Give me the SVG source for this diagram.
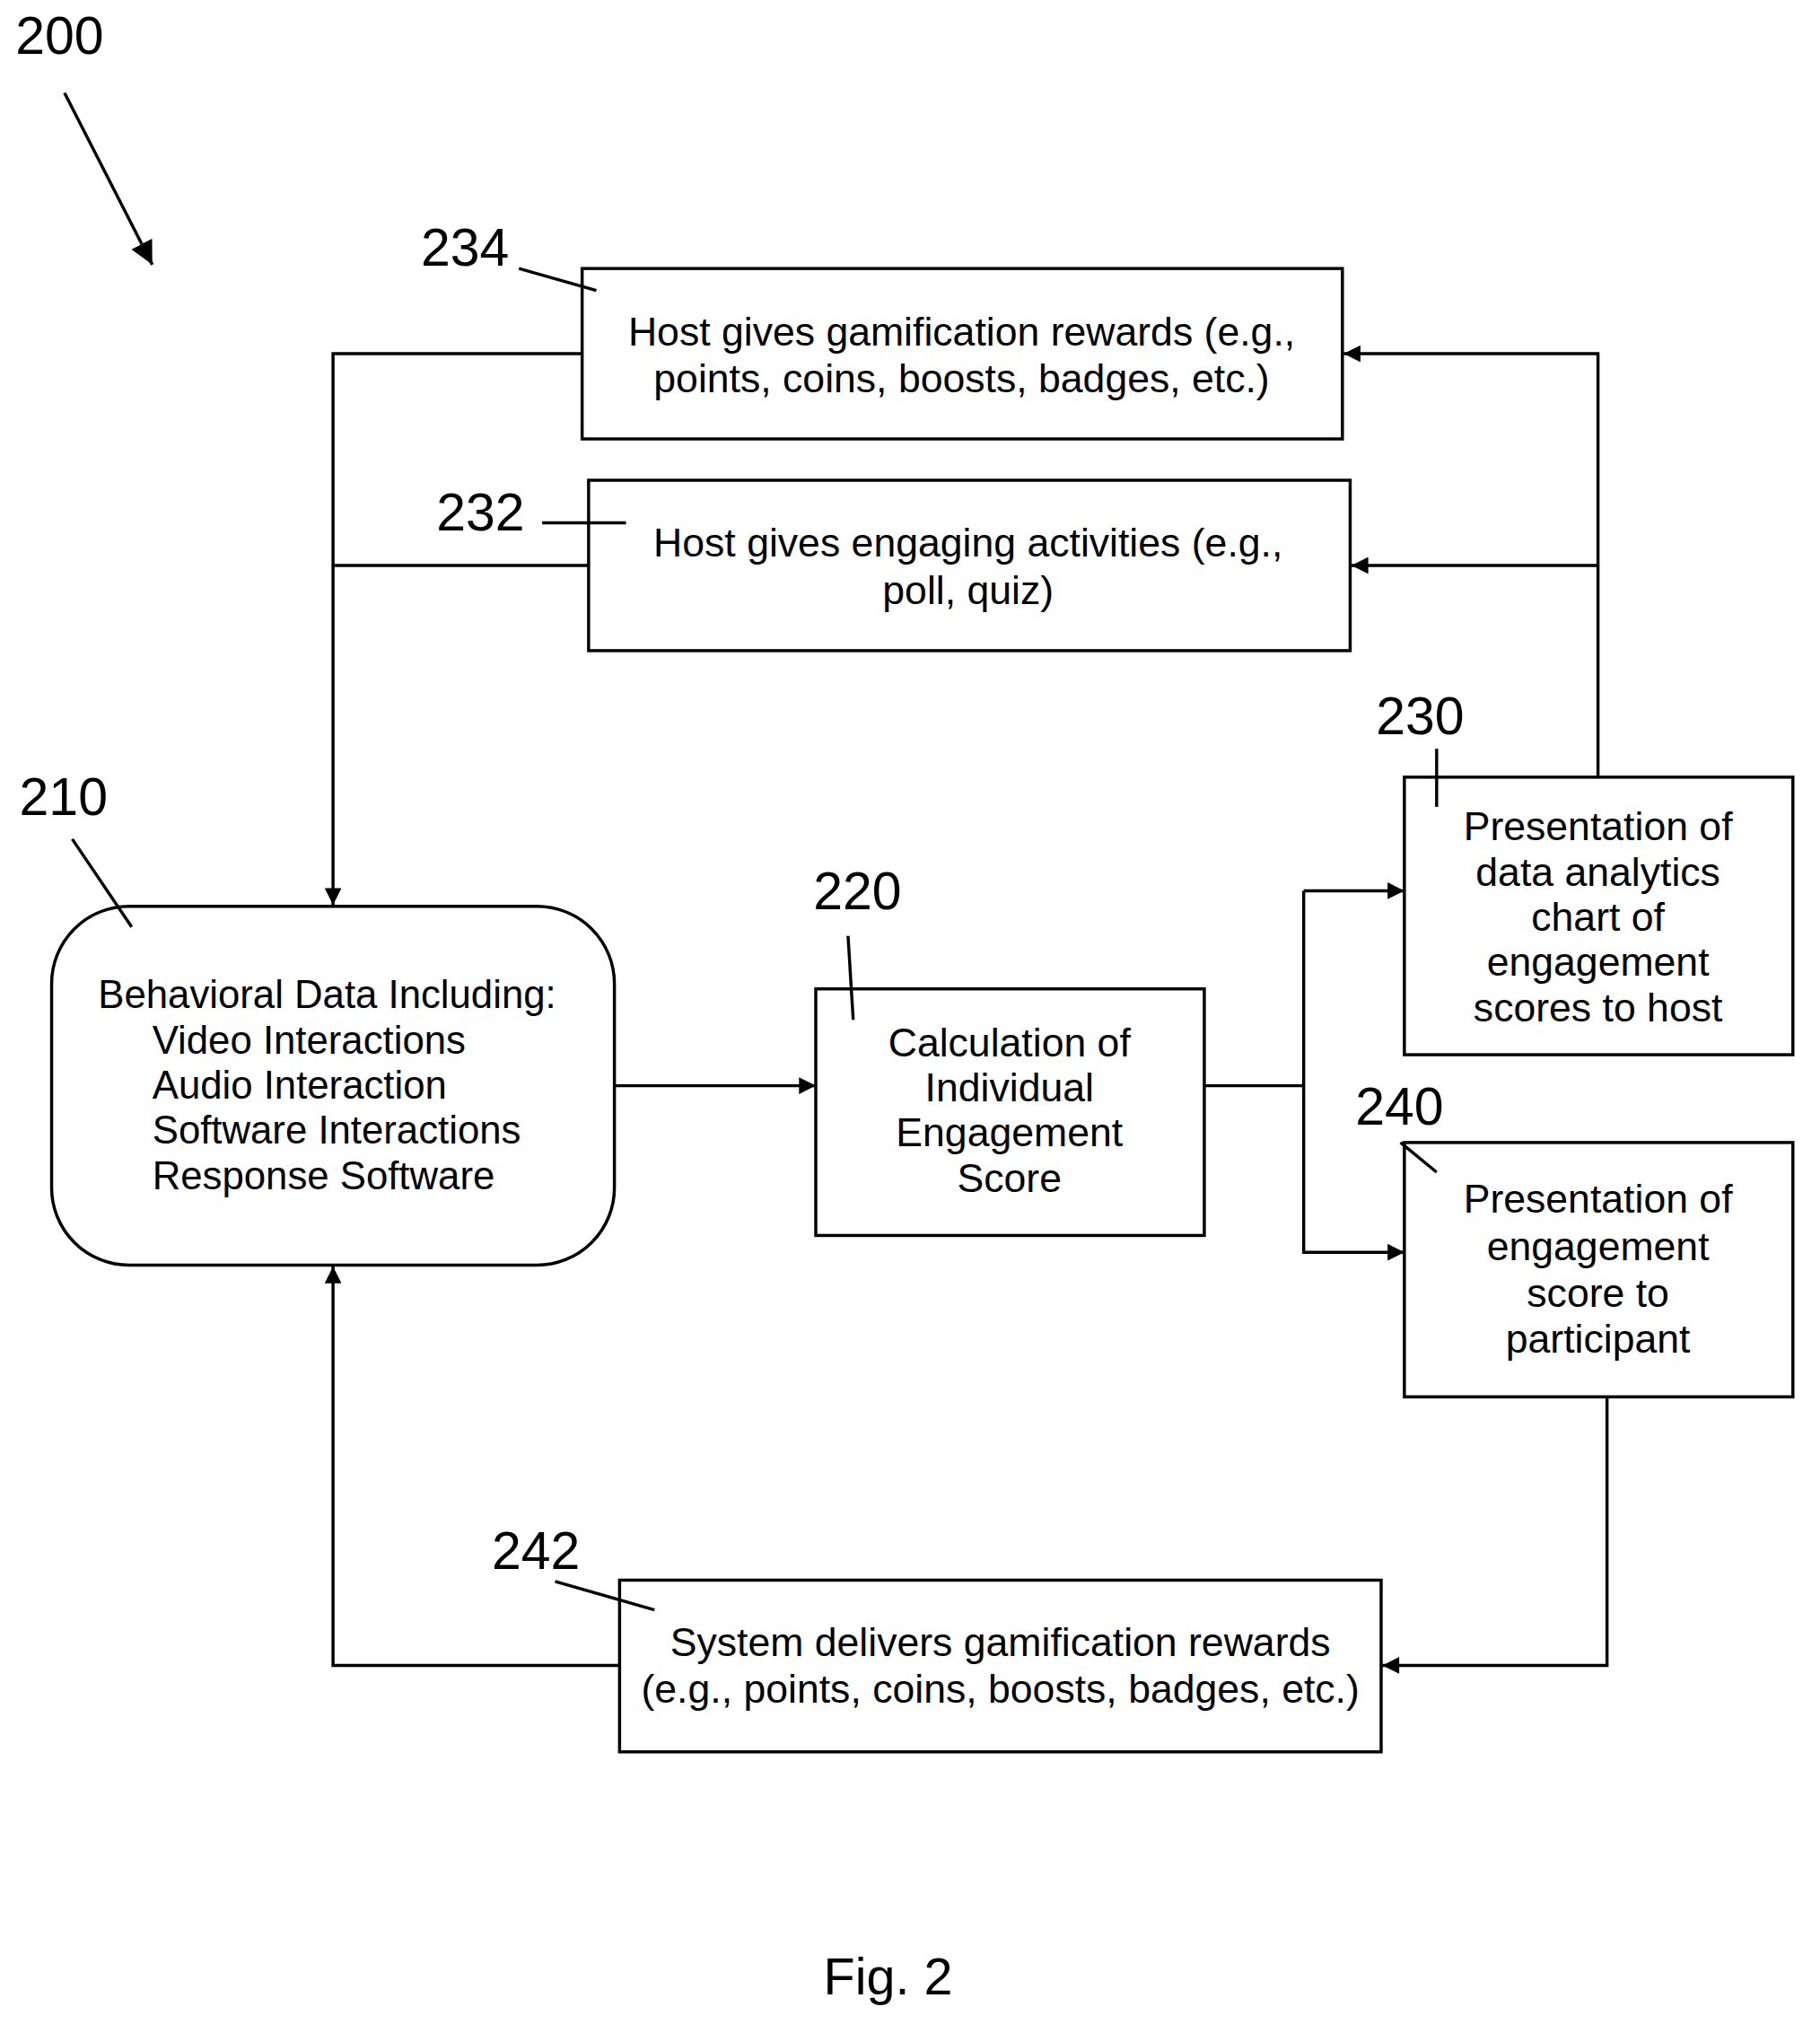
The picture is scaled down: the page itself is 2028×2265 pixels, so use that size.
<svg xmlns="http://www.w3.org/2000/svg" width="2028" height="2265" viewBox="0 0 2028 2265">
<style>
.b{fill:none;stroke:#000;stroke-width:2.4}
.c{fill:none;stroke:#000;stroke-width:2.4}
text{font-family:"Liberation Sans",Arial,sans-serif;fill:#000}
.t{font-size:31px;text-anchor:middle}
.s{font-size:30.4px}
.l{font-size:41px}
</style>
<defs><marker id="a" viewBox="0 0 10 10" refX="10" refY="5" markerWidth="16" markerHeight="13" markerUnits="userSpaceOnUse" orient="auto"><path d="M0,0L10,5L0,10z" fill="#000"/></marker>
<marker id="m" viewBox="0 0 10 10" refX="10" refY="5" markerWidth="18" markerHeight="18" markerUnits="userSpaceOnUse" orient="auto"><path d="M0,0L10,5L0,10z" fill="#000"/></marker></defs>
<rect width="2028" height="2265" fill="#fff"/>
<g transform="scale(1.4383)">
<g id="label200"><text class="l" x="12" y="42">200</text><line class="c" x1="50" y1="72" x2="118" y2="205" marker-end="url(#m)"/></g>
<g id="n234"><rect class="b" x="451" y="208" width="589" height="132"/><text class="t" x="745" y="268">Host gives gamification rewards (e.g.,</text><text class="t" x="745" y="304">points, coins, boosts, badges, etc.)</text><text class="l" x="326" y="206">234</text><line class="c" x1="402" y1="208" x2="462" y2="225"/></g>
<g id="n232"><rect class="b" x="456" y="372" width="590" height="132"/><text class="t" x="750" y="431">Host gives engaging activities (e.g.,</text><text class="t" x="750" y="468">poll, quiz)</text><text class="l" x="338" y="411">232</text><line class="c" x1="420" y1="405" x2="485" y2="405"/></g>
<g id="n210"><rect class="b" x="40" y="702" width="436" height="278" rx="60"/>
<text class="s" x="76" y="781">Behavioral Data Including:</text><text class="s" x="118" y="816">Video Interactions</text><text class="s" x="118" y="851">Audio Interaction</text><text class="s" x="118" y="886">Software Interactions</text><text class="s" x="118" y="921">Response Software</text>
<text class="l" x="15" y="631">210</text><line class="c" x1="56" y1="650" x2="102" y2="718"/></g>
<g id="n220"><rect class="b" x="632" y="766" width="301" height="191"/><text class="t" x="782" y="818">Calculation of</text><text class="t" x="782" y="853">Individual</text><text class="t" x="782" y="888">Engagement</text><text class="t" x="782" y="923">Score</text><text class="l" x="630" y="704">220</text><line class="c" x1="657" y1="725" x2="661" y2="790"/></g>
<g id="n230"><rect class="b" x="1088" y="602" width="301" height="215"/><text class="t" x="1238" y="651">Presentation of</text><text class="t" x="1238" y="686">data analytics</text><text class="t" x="1238" y="721">chart of</text><text class="t" x="1238" y="756">engagement</text><text class="t" x="1238" y="791">scores to host</text><text class="l" x="1066" y="569">230</text><line class="c" x1="1113" y1="580" x2="1113" y2="625"/></g>
<g id="n240"><rect class="b" x="1088" y="885" width="301" height="197"/><text class="t" x="1238" y="939">Presentation of</text><text class="t" x="1238" y="976">engagement</text><text class="t" x="1238" y="1012">score to</text><text class="t" x="1238" y="1048">participant</text><text class="l" x="1050" y="871">240</text><line class="c" x1="1085" y1="885" x2="1113" y2="908"/></g>
<g id="n242"><rect class="b" x="480" y="1224" width="590" height="133"/><text class="t" x="775" y="1283">System delivers gamification rewards</text><text class="t" x="775" y="1319">(e.g., points, coins, boosts, badges, etc.)</text><text class="l" x="381" y="1215">242</text><line class="c" x1="430" y1="1225" x2="507" y2="1247"/></g>
<g id="connectors">
<polyline class="c" points="451,274 258,274 258,701" marker-end="url(#a)"/>
<line class="c" x1="456" y1="438" x2="258" y2="438"/>
<polyline class="c" points="1238,602 1238,274 1041,274" marker-end="url(#a)"/>
<line class="c" x1="1238" y1="438" x2="1047" y2="438" marker-end="url(#a)"/>
<line class="c" x1="476" y1="841" x2="632" y2="841" marker-end="url(#a)"/>
<line class="c" x1="933" y1="841" x2="1010" y2="841"/>
<polyline class="c" points="1010,690 1010,970 1088,970" marker-end="url(#a)"/>
<line class="c" x1="1010" y1="690" x2="1088" y2="690" marker-end="url(#a)"/>
<polyline class="c" points="1245,1082 1245,1290 1071,1290" marker-end="url(#a)"/>
<polyline class="c" points="480,1290 258,1290 258,981" marker-end="url(#a)"/>
</g>
<text x="688" y="1545" font-size="40" text-anchor="middle">Fig. 2</text>
</g>
</svg>
